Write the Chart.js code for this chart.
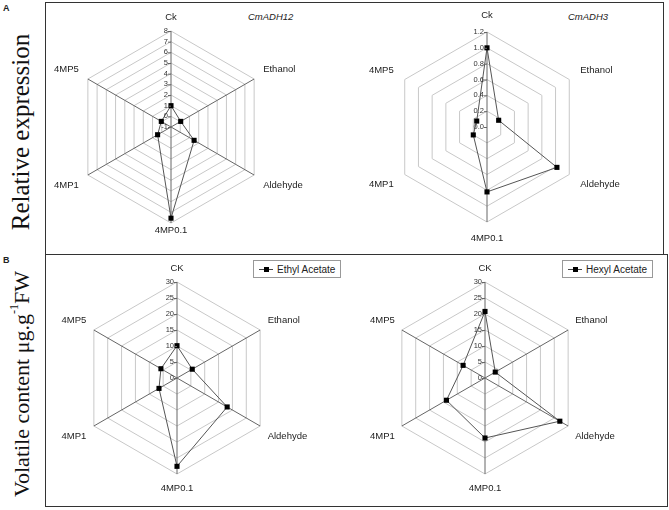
<!DOCTYPE html>
<html lang="en">
<head>
<meta charset="utf-8">
<title>ADH expression and volatile content radar charts</title>
<script src="https://cdn.jsdelivr.net/npm/chart.js@4"></script>
<style>
  body { margin: 0; background: #fff; }
  #fig { position: relative; width: 669px; height: 510px; overflow: hidden;
         font-family: "Liberation Sans", Arial, sans-serif; color: #222; }
  #fig canvas { position: absolute; left: 0; top: 0; }
  .panel { position: absolute; border: 1.5px solid #333; box-sizing: border-box; }
  .tag { position: absolute; font-weight: bold; font-size: 9px; }
  .ytitle { position: absolute; font-family: "Liberation Serif", "Times New Roman", serif;
            writing-mode: vertical-rl; white-space: nowrap; color: #111;
            transform: translate(-50%, -50%) rotate(180deg); }
  .gene { position: absolute; font-style: italic; font-size: 9.5px; }
  .legend { position: absolute; height: 18px; border: 1px solid #999; box-sizing: border-box;
            display: flex; align-items: center; padding: 0 5px; font-size: 10px; background: #fff; }
  .legend .sym { position: relative; width: 14px; height: 1px; background: #444; margin-right: 4px; }
  .legend .sym::after { content: ''; position: absolute; left: 5px; top: -2px; width: 5px; height: 5px; background: #000; }
</style>
</head>
<body>
<div id="fig">
  <div class="panel" style="left:45px;top:2px;width:619px;height:253px"></div>
  <div class="panel" style="left:45px;top:254px;width:623px;height:253px"></div>
  <div class="tag" style="left:3px;top:3px">A</div>
  <div class="tag" style="left:3px;top:255px">B</div>
  <div class="ytitle" style="left:21px;top:132px;font-size:25px">Relative expression</div>
  <div class="ytitle" style="left:21px;top:384px;font-size:22px">Volatile content μg.g<sup style="font-size:12px">-1</sup>FW</div>
  <div class="gene" style="left:248px;top:11px">CmADH12</div>
  <div class="gene" style="left:568px;top:11px">CmADH3</div>
  <div class="legend" style="left:253px;top:260px"><span class="sym"></span>Ethyl Acetate</div>
  <div class="legend" style="left:562px;top:260px"><span class="sym"></span>Hexyl Acetate</div>
  <canvas id="adh12" width="669" height="510"></canvas>
  <canvas id="adh3" width="669" height="510"></canvas>
  <canvas id="ethyl" width="669" height="510"></canvas>
  <canvas id="hexyl" width="669" height="510"></canvas>
</div>

<script>
  // 坐标轴名称
  const geneAxes = ['Ck', 'Ethanol', 'Aldehyde', '4MP0.1', '4MP1', '4MP5'];
  const volatileAxes = ['CK', 'Ethanol', 'Aldehyde', '4MP0.1', '4MP1', '4MP5'];

  // 数值
  const adh12Values = [1.0, 0.05, 1.5, 7.55, 0.45, 0.05];
  const adh3Values = [1.0, 0.17, 1.02, 0.82, 0.2, 0.15];
  const ethylValues = [10.1, 5.5, 18.1, 27.6, 6.5, 5.8];
  const hexylValues = [20.8, 3.7, 27.0, 18.75, 13.9, 7.9];

  // 刻度标签
  const adh12Ticks = ['-1', '0', '1', '2', '3', '4', '5', '6', '7', '8'];
  const adh3Ticks = ['0.0', '0.2', '0.4', '0.6', '0.8', '1.0', '1.2'];
  const volatileTicks = ['0', '5', '10', '15', '20', '25', '30'];

  const W = 669, H = 510;
  const dark = '#666';
  const allSpokes = [dark, dark, dark, dark, dark, dark];
  const verticalSpokes = [dark, 'rgba(0,0,0,0)', 'rgba(0,0,0,0)', dark, 'rgba(0,0,0,0)', 'rgba(0,0,0,0)'];

  // 通用雷达图函数
  function makeRadar(id, axes, values, tickLabels, min, max, step, cx, cy, R, spokes, gaps) {
    const axisText = {
      id: 'axisText' + id,
      afterDraw(chart) {
        const ctx = chart.ctx;
        const s = chart.scales.r;
        ctx.save();
        // 刻度
        ctx.font = '7.5px "Liberation Sans", Arial';
        ctx.fillStyle = '#333';
        ctx.strokeStyle = '#666';
        ctx.lineWidth = 1;
        ctx.textAlign = 'right';
        ctx.textBaseline = 'middle';
        s.ticks.forEach((t, i) => {
          const y = s.yCenter - s.getDistanceFromCenterForValue(t.value);
          ctx.beginPath();
          ctx.moveTo(s.xCenter - 3, y + 0.5);
          ctx.lineTo(s.xCenter, y + 0.5);
          ctx.stroke();
          ctx.fillText(tickLabels[i], s.xCenter - 3, y);
        });
        // 轴名称
        ctx.font = '9.5px "Liberation Sans", Arial';
        ctx.fillStyle = '#222';
        axes.forEach((txt, i) => {
          const p = s.getPointPosition(i, s.drawingArea);
          let x = p.x, y = p.y, align = 'center';
          if (i === 0) y -= gaps.top;
          else if (i === 3) y += gaps.bottom;
          else {
            const right = i < 3;
            x += right ? gaps.side : -gaps.side;
            y += (i === 1 || i === 5) ? -9.5 : 10;
            align = right ? 'left' : 'right';
          }
          ctx.textAlign = align;
          ctx.fillText(txt, x, y);
        });
        ctx.restore();
      }
    };

    return new Chart(document.getElementById(id), {
      type: 'radar',
      data: {
        labels: axes,
        datasets: [{
          label: id,
          data: values,
          borderColor: '#555',
          borderWidth: 1,
          pointStyle: 'rect',
          pointRadius: 3.6,
          pointBackgroundColor: '#000',
          pointBorderColor: '#000',
          pointBorderWidth: 0,
          fill: false
        }]
      },
      options: {
        responsive: false,
        animation: false,
        layout: { padding: { left: cx - R, top: cy - R, right: W - cx - R, bottom: H - cy - R } },
        plugins: { legend: { display: false }, tooltip: { enabled: false } },
        scales: {
          r: {
            min: min,
            max: max,
            ticks: { display: false, stepSize: step },
            grid: { color: '#c8c8c8', lineWidth: 1 },
            angleLines: { color: ctx => spokes[ctx.index], lineWidth: 1 },
            pointLabels: { display: false }
          }
        }
      },
      plugins: [axisText]
    });
  }

  makeRadar('adh12', geneAxes, adh12Values, adh12Ticks, -1, 8, 1, 171, 127, 96, allSpokes, { top: 13.5, bottom: 7, side: 9 });
  makeRadar('adh3', geneAxes, adh3Values, adh3Ticks, 0, 1.2, 0.2, 487, 127, 95, verticalSpokes, { top: 17, bottom: 16, side: 11 });
  makeRadar('ethyl', volatileAxes, ethylValues, volatileTicks, 0, 30, 5, 177, 378, 96, allSpokes, { top: 14, bottom: 14, side: 7.5 });
  makeRadar('hexyl', volatileAxes, hexylValues, volatileTicks, 0, 30, 5, 485, 378, 96, allSpokes, { top: 14, bottom: 14, side: 7 });
</script>
</body>
</html>
